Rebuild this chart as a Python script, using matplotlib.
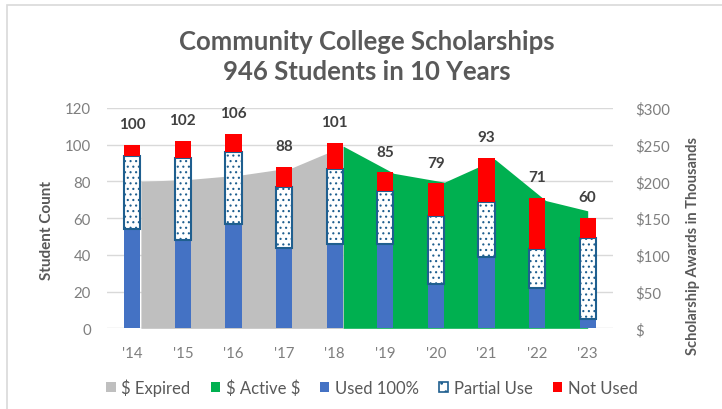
import numpy as np
import matplotlib
matplotlib.use("Agg")
import matplotlib.pyplot as plt
from matplotlib.patches import Patch, Rectangle

# data
years = ["'14", "'15", "'16", "'17", "'18", "'19", "'20", "'21", "'22", "'23"]
used_full = [54, 48, 57, 44, 46, 46, 24, 39, 22, 5]
partial_use = [40, 45, 39, 33, 41, 29, 37, 30, 21, 44]
not_used = [6, 9, 10, 11, 14, 10, 18, 24, 28, 11]
totals = [100, 102, 106, 88, 101, 85, 79, 93, 71, 60]

# scholarship dollars (thousands), right axis
expired_years = ["'14", "'15", "'16", "'17", "'18"]
expired_k = [200, 203, 209, 219, 248]
active_years = ["'18", "'19", "'20", "'21", "'22", "'23"]
active_k = [248, 211, 199, 230, 174, 160]

dollar_ticks = [0, 50, 100, 150, 200, 250, 300]
dollar_labels = ["$", "$50", "$100", "$150", "$200", "$250", "$300"]

BLUE = "#4472C4"
RED = "#FF0000"
GREEN = "#00B050"
GRAY = "#BFBFBF"
EDGE = "#1F5F8F"
TXT = "#595959"
TICK = "#7F7F7F"

plt.rcParams["font.family"] = ["Lato", "DejaVu Sans"]
plt.rcParams["text.parse_math"] = False
plt.rcParams["hatch.linewidth"] = 0.8

fig = plt.figure(figsize=(7.22, 4.10), dpi=100)
W, H = 722, 410

# chart frame
fig.patches.append(Rectangle((7 / W, -0.1), 1.2, 1 - 6 / H + 0.1, transform=fig.transFigure,
                             fill=False, edgecolor="#D9D9D9", linewidth=1.2))

rect = [107 / W, 1 - 329.3 / H, 506 / W, 220.3 / H]
ax2 = fig.add_axes(rect)            # area + gridlines (behind)
ax = fig.add_axes(rect, sharex=ax2)  # bars (front)
ax.patch.set_visible(False)

idx = np.arange(len(years))
pos = {y: i for i, y in enumerate(years)}
# area vertices sit just to the right of the bar centres, last one at the centre
def area_x(labels):
    return np.minimum(np.array([pos[l] for l in labels]) + 0.17, len(years) - 1)

ax2.fill_between(area_x(expired_years), expired_k, 0, color=GRAY, linewidth=0)
ax2.fill_between(area_x(active_years), active_k, 0, color=GREEN, linewidth=0)
ax2.set_ylim(0, 300)
ax2.set_yticks(dollar_ticks)
ax2.set_yticklabels(dollar_labels)
ax2.yaxis.tick_right()
ax2.grid(axis="y", color="#D9D9D9", linewidth=1)
ax2.set_axisbelow(True)
ax2.tick_params(axis="y", length=0, pad=16, labelsize=10.8, labelcolor=TICK)
for lab in ax2.get_yticklabels():
    lab.set_horizontalalignment("left")

bw = 0.32
ax.bar(idx, used_full, bw, color=BLUE, linewidth=0)
ax.bar(idx, partial_use, bw, bottom=used_full, color="white", edgecolor=EDGE,
       hatch="...", linewidth=1.5)
ax.bar(idx, not_used, bw, bottom=np.add(used_full, partial_use), color=RED, linewidth=0)
for i, t in enumerate(totals):
    ax.annotate(str(t), (i, t), xytext=(0, 12), textcoords="offset points",
                ha="center", va="baseline", fontsize=11, fontweight="bold", color="#404040")

ax.set_ylim(0, 120)
ax.set_yticks(range(0, 121, 20))
ax.set_xlim(-0.5, len(years) - 0.5)
ax.set_xticks(idx)
ax.set_xticklabels(years)
ax.tick_params(axis="both", length=0, labelsize=10.8, labelcolor=TICK)
ax.tick_params(axis="y", pad=11.5)
ax.tick_params(axis="x", pad=13)
ax2.tick_params(axis="x", labelbottom=False, length=0)
for a in (ax, ax2):
    for s in a.spines.values():
        s.set_visible(False)

fig.text(367 / W, 1 - 42 / H, "Community College Scholarships", ha="center", va="center",
         fontsize=18.5, fontweight="bold", color=TXT)
fig.text(367 / W, 1 - 72 / H, "946 Students in 10 Years", ha="center", va="center",
         fontsize=18.5, fontweight="bold", color=TXT)
fig.text(47 / W, 1 - 230 / H, "Student Count", rotation=90, ha="center", va="center",
         fontsize=11, fontweight="bold", color=TXT)
fig.text(693 / W, 1 - 246 / H, "Scholarship Awards in Thousands", rotation=90,
         ha="center", va="center", fontsize=10.5, fontweight="bold", color=TXT)

handles = [
    Patch(facecolor=GRAY, label="$ Expired"),
    Patch(facecolor=GREEN, label="$ Active $"),
    Patch(facecolor=BLUE, label="Used 100%"),
    Patch(facecolor="white", edgecolor=EDGE, hatch="..", linewidth=1.2, label="Partial Use"),
    Patch(facecolor=RED, label="Not Used"),
]
fig.legend(handles=handles, loc="center", bbox_to_anchor=(372 / W, 1 - 388 / H), ncol=5,
           frameon=False, fontsize=12, handlelength=0.55, handleheight=0.55,
           handletextpad=0.35, columnspacing=1.2, labelcolor=TXT)

fig.savefig("out.png", dpi=100)
